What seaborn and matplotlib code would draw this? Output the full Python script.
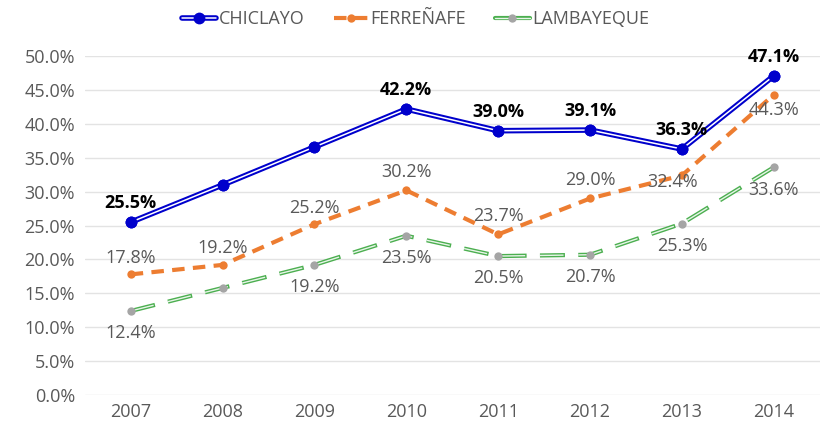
import matplotlib
matplotlib.use("Agg")
import matplotlib.pyplot as plt
from matplotlib.lines import Line2D
import numpy as np
import pandas as pd
import seaborn as sns

years = [2007, 2008, 2009, 2010, 2011, 2012, 2013, 2014]
chiclayo = [25.5, 31.0, 36.6, 42.2, 39.0, 39.1, 36.3, 47.1]
ferrenafe = [17.8, 19.2, 25.2, 30.2, 23.7, 29.0, 32.4, 44.3]
lambayeque = [12.4, 15.8, 19.2, 23.5, 20.5, 20.7, 25.3, 33.6]

# which points carry a label, and where (offset in points)
chic_lab = [True, False, False, True, True, True, True, True]
ferr_lab = [True, True, True, True, True, True, True, True]
lamb_lab = [True, False, True, True, True, True, True, True]
ferr_off = [(0, 12), (0, 12), (0, 12), (0, 13), (0, 13), (0, 13), (-7, -5), (0, -11)]

BLUE = "#0000CC"
ORANGE = "#ED7D31"
GREEN = "#4CAF50"
GRAY_TXT = "#595959"
FS = 13

sns.set_style("white")
plt.rcParams["font.family"] = ["Open Sans", "DejaVu Sans"]

fig = plt.figure(figsize=(8.23, 4.32), dpi=100)
ax = fig.add_axes([0.103, 0.0856, 0.893, 0.7844])

df = pd.DataFrame({"year": years, "CHICLAYO": chiclayo,
                   "FERREÑAFE": ferrenafe, "LAMBAYEQUE": lambayeque})

# CHICLAYO: double line (blue with white core)
sns.lineplot(data=df, x="year", y="CHICLAYO", ax=ax, color=BLUE, lw=4,
             marker="o", markersize=8.5, markeredgewidth=0, zorder=4)
ax.plot(df["year"], df["CHICLAYO"], color="white", lw=1.1, zorder=5)
ax.plot(df["year"], df["CHICLAYO"], ls="none", marker="o", ms=8.5,
        color=BLUE, mew=0, zorder=6)

# FERREÑAFE: orange dashed
sns.lineplot(data=df, x="year", y="FERREÑAFE", ax=ax, color=ORANGE, lw=3,
             marker="o", markersize=6, markeredgewidth=0, zorder=3)
ax.lines[-1].set_dashes([3, 2])

# LAMBAYEQUE: green dashed double line with gray markers
sns.lineplot(data=df, x="year", y="LAMBAYEQUE", ax=ax, color=GREEN, lw=3,
             zorder=2)
ax.lines[-1].set_dashes([6, 3.2])
ax.plot(df["year"], df["LAMBAYEQUE"], color="#E8F5E9", lw=1.0, zorder=2.5,
        dashes=[6 * 3 - 1, 3.2 * 3 + 1])
ax.plot(df["year"], df["LAMBAYEQUE"], ls="none", marker="o", ms=6,
        color="#A5A5A5", mew=0, zorder=2.6)

for i, (x, y) in enumerate(zip(years, chiclayo)):
    if chic_lab[i]:
        ax.annotate(f"{y:.1f}%", (x, y), xytext=(0, 7), textcoords="offset points",
                    ha="center", va="bottom", fontsize=FS, fontweight="bold",
                    color="black", zorder=7)
for i, (x, y) in enumerate(zip(years, ferrenafe)):
    if ferr_lab[i]:
        dx, dy = ferr_off[i]
        ax.annotate(f"{y:.1f}%", (x, y), xytext=(dx, dy), textcoords="offset points",
                    ha="center", va="center", fontsize=FS, color=GRAY_TXT, zorder=7)
for i, (x, y) in enumerate(zip(years, lambayeque)):
    if lamb_lab[i]:
        ax.annotate(f"{y:.1f}%", (x, y), xytext=(0, -16), textcoords="offset points",
                    ha="center", va="center", fontsize=FS, color=GRAY_TXT, zorder=7)

ax.set_xlim(2006.5, 2014.5)
ax.set_ylim(0, 50)
ax.set_xticks(years)
ax.set_xticklabels([str(y) for y in years])
yt = np.arange(0, 51, 5)
ax.set_yticks(yt)
ax.set_yticklabels([f"{v:.1f}%" for v in yt])
ax.tick_params(axis="both", labelsize=FS, labelcolor=GRAY_TXT, length=0, pad=6)
ax.tick_params(axis="y", pad=7)
ax.grid(axis="y", color="#E3E3E3", lw=1)
ax.set_axisbelow(True)
ax.set_xlabel("")
ax.set_ylabel("")
for s in ax.spines.values():
    s.set_visible(False)

h1 = (Line2D([], [], color=BLUE, lw=4), Line2D([], [], color="white", lw=1.1),
      Line2D([], [], ls="none", marker="o", ms=8.5, color=BLUE, mew=0))
h2 = Line2D([], [], color=ORANGE, lw=3, dashes=[3, 2], marker="o", ms=6, mew=0)
h3 = (Line2D([], [], color=GREEN, lw=3),
      Line2D([], [], color="#E8F5E9", lw=1.0),
      Line2D([], [], ls="none", marker="o", ms=6, color="#A5A5A5", mew=0))
fig.legend([h1, h2, h3], ["CHICLAYO", "FERREÑAFE", "LAMBAYEQUE"],
           loc="center", bbox_to_anchor=(0.505, 0.955), ncol=3, frameon=False,
           fontsize=FS, labelcolor=GRAY_TXT, handlelength=1.9,
           handletextpad=0.15, columnspacing=1.6)

fig.savefig("out.png", dpi=100)
